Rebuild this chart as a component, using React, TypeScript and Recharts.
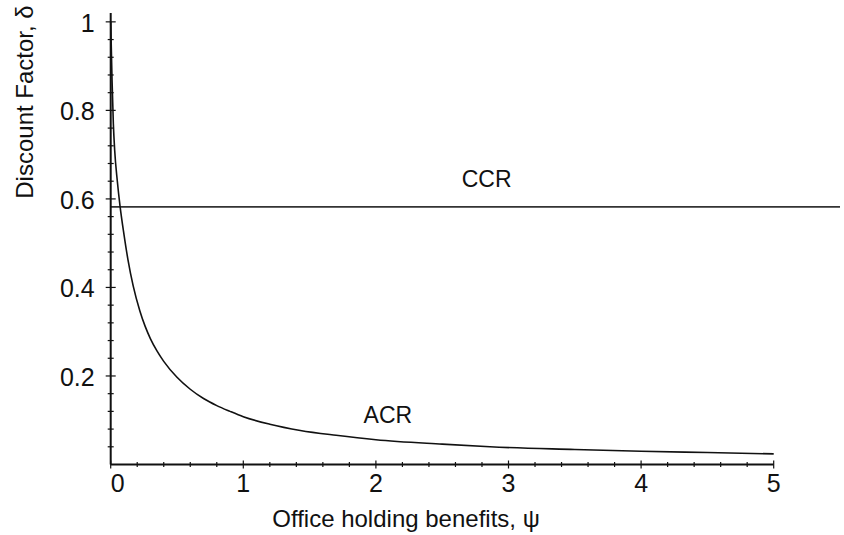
import React from "react";
import { Label, Line, LineChart, ReferenceDot, ReferenceLine, XAxis, YAxis } from "recharts";

// ACR curve
const acrPsi = [0, 0.01, 0.02, 0.03, 0.05, 0.07, 0.1, 0.13, 0.17, 0.22, 0.26, 0.3, 0.35, 0.4, 0.5, 0.6, 0.7, 0.8, 0.9, 1.0, 1.2, 1.43, 1.7, 2.0, 2.5, 2.86, 3.5, 4.0, 4.5, 5.0];
const acrDelta = [1.0, 0.87, 0.77, 0.71, 0.64, 0.585, 0.52, 0.463, 0.403, 0.347, 0.312, 0.284, 0.256, 0.233, 0.197, 0.17, 0.149, 0.133, 0.12, 0.108, 0.091, 0.077, 0.066, 0.056, 0.046, 0.04, 0.034, 0.03, 0.027, 0.024];

// CCR is flat
const ccrPsi = [0, 5.5];
const ccrDelta = [0.582, 0.582];

const xMajor = [0, 1, 2, 3, 4, 5];
const yMajor = [0.2, 0.4, 0.6, 0.8, 1];
const xMinor = Array.from({ length: 26 }, (_, i) => Math.round(i * 2) / 10);
const yMinor = Array.from({ length: 25 }, (_, i) => Math.round((i + 1) * 4) / 100);

const acrData = acrPsi.map((psi, i) => ({ psi, acr: acrDelta[i] }));
const ccrData = ccrPsi.map((psi, i) => ({ psi, ccr: ccrDelta[i] }));

const FONT = '"Liberation Sans", Arial, Helvetica, sans-serif';
const INK = "#111";

const near = (v: number, list: number[]) => list.some((m) => Math.abs(m - v) < 1e-6);

function XTick(props: any) {
  const { x, y, payload } = props;
  const v = payload.value;
  const major = near(v, xMajor);
  const s = major ? 4 : 2.5;
  return (
    <g>
      <line x1={x} x2={x} y1={y - s} y2={y + s} stroke={INK} strokeWidth={1.2} />
      {major && (
        <text
          x={v === 0 ? x + 7 : x}
          y={y + 18}
          textAnchor="middle"
          dominantBaseline="central"
          fontFamily={FONT}
          fontSize={25}
          fill={INK}
        >
          {v}
        </text>
      )}
    </g>
  );
}

function YTick(props: any) {
  const { x, y, payload } = props;
  const v = payload.value;
  const major = near(v, yMajor);
  const s = major ? 5 : 3;
  return (
    <g>
      <line x1={x - s} x2={x + s} y1={y} y2={y} stroke={INK} strokeWidth={1.2} />
      {major && (
        <text
          x={x - 16}
          y={y + 1}
          textAnchor="end"
          dominantBaseline="central"
          fontFamily={FONT}
          fontSize={25}
          fill={INK}
        >
          {v}
        </text>
      )}
    </g>
  );
}

const curveLabel = (text: string) => (props: any) => {
  const { viewBox } = props;
  return (
    <text
      x={viewBox.x + viewBox.width / 2}
      y={viewBox.y + viewBox.height / 2}
      textAnchor="middle"
      dominantBaseline="central"
      fontFamily={FONT}
      fontSize={23}
      fill={INK}
    >
      {text}
    </text>
  );
};

export default function App() {
  return (
    <div style={{ position: "absolute", left: 0, top: 0, background: "#fff" }}>
      <LineChart width={844} height={535} margin={{ top: 13, right: 4, bottom: 40.5, left: 0 }}>
        <XAxis
          type="number"
          dataKey="psi"
          domain={[0, 5.5]}
          ticks={xMinor}
          interval={0}
          axisLine={false}
          tickLine={false}
          tickSize={0}
          tickMargin={0}
          height={30}
          tick={<XTick />}
          allowDuplicatedCategory={false}
        >
          <Label
            content={() => (
              <text x={406} y={518} textAnchor="middle" dominantBaseline="central" fontFamily={FONT} fontSize={24} fill={INK}>
                Office holding benefits, ψ
              </text>
            )}
          />
        </XAxis>
        <YAxis
          type="number"
          domain={[0, 1.02]}
          ticks={yMinor}
          interval={0}
          width={110.7}
          axisLine={{ stroke: INK, strokeWidth: 2 }}
          tickLine={false}
          tickSize={0}
          tickMargin={0}
          tick={<YTick />}
        >
          <Label
            content={() => (
              <text
                x={24}
                y={102}
                transform="rotate(-90 24 102)"
                textAnchor="middle"
                dominantBaseline="central"
                fontFamily={FONT}
                fontSize={24}
                fill={INK}
              >
                Discount Factor, δ
              </text>
            )}
          />
        </YAxis>
        <ReferenceLine
          segment={[
            { x: 0, y: 0 },
            { x: 5, y: 0 },
          ]}
          stroke={INK}
          strokeWidth={2}
        />
        <Line
          data={ccrData}
          dataKey="ccr"
          type="linear"
          stroke="#333"
          strokeWidth={1.6}
          dot={false}
          isAnimationActive={false}
        />
        <Line
          data={acrData}
          dataKey="acr"
          type="monotone"
          stroke={INK}
          strokeWidth={1.6}
          dot={false}
          isAnimationActive={false}
        />
        <ReferenceDot x={2.09} y={0.112} r={0} fill="none" stroke="none" label={curveLabel("ACR")} />
        <ReferenceDot x={2.835} y={0.645} r={0} fill="none" stroke="none" label={curveLabel("CCR")} />
      </LineChart>
    </div>
  );
}
